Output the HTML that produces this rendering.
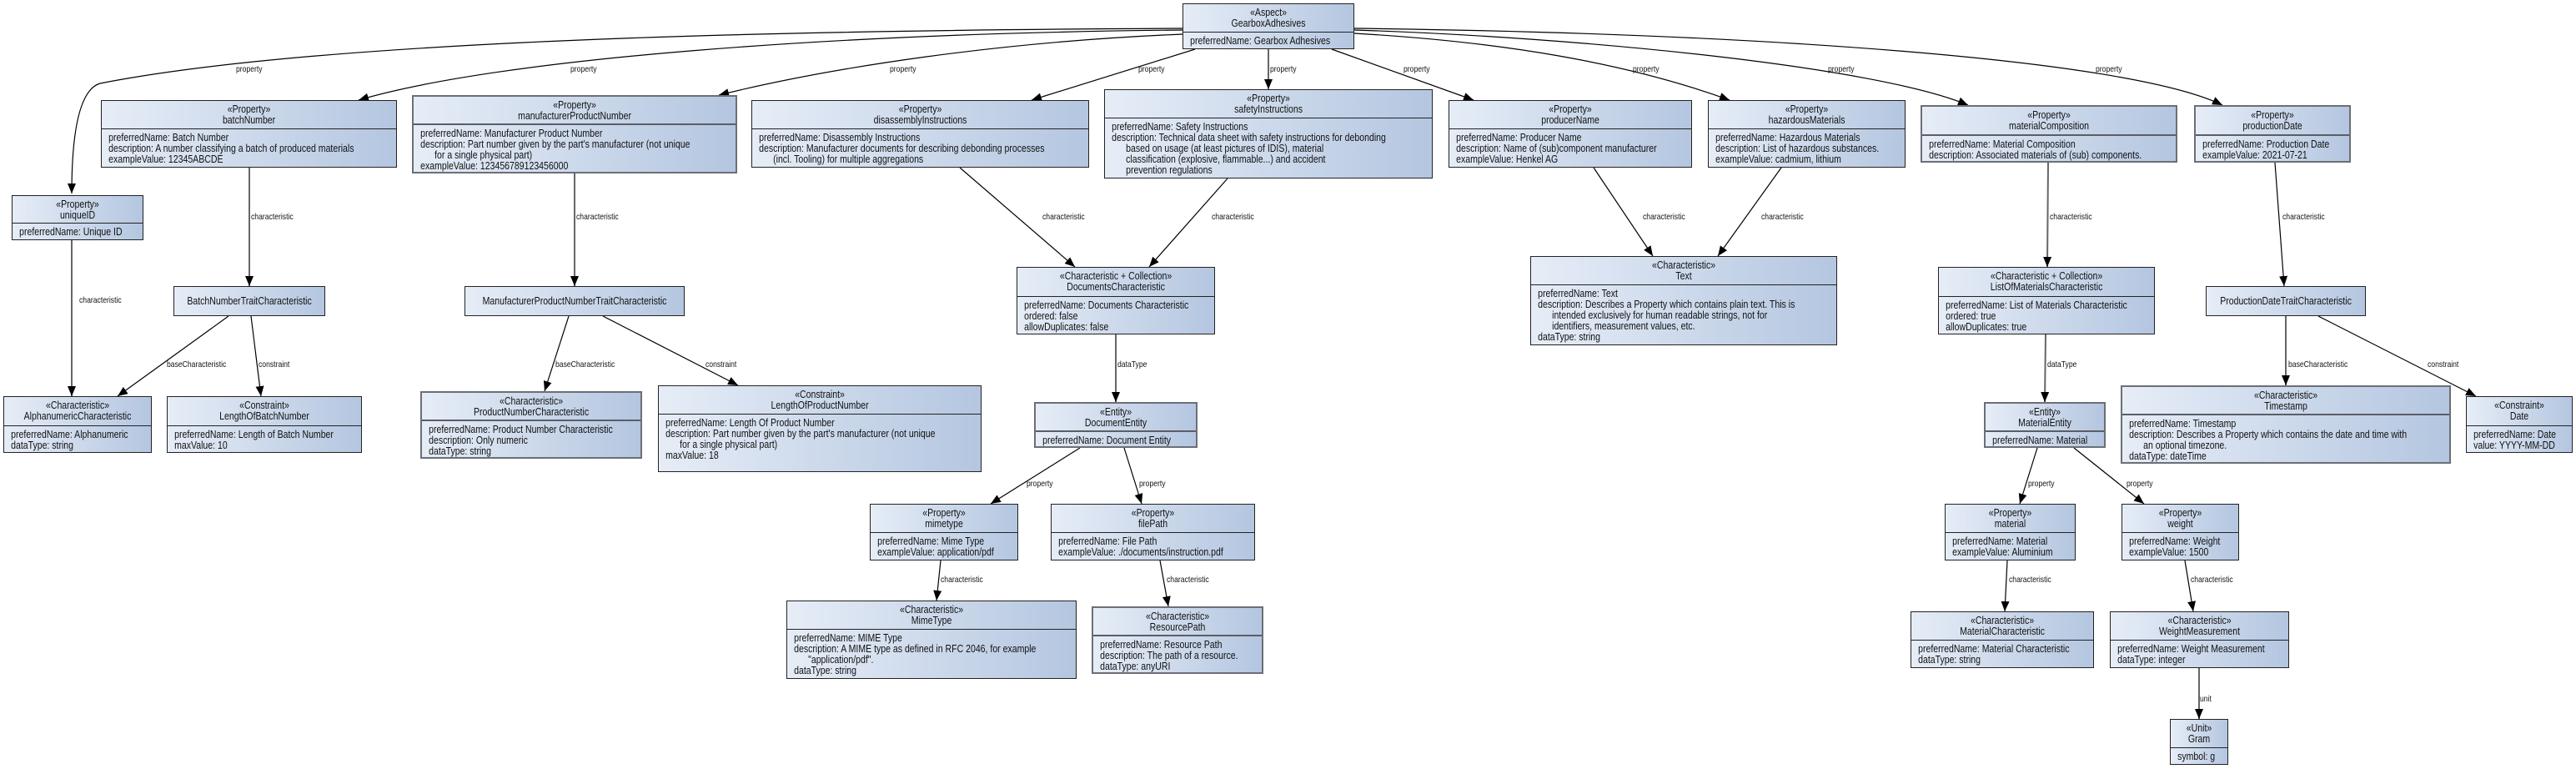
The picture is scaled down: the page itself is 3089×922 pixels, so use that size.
<!DOCTYPE html>
<html><head><meta charset="utf-8"><style>
body{margin:0;width:3089px;height:922px;background:#fff;position:relative;overflow:hidden;font-family:"Liberation Sans",sans-serif;color:#111}
.box{position:absolute;box-sizing:border-box;border:1.5px solid #222;background:linear-gradient(to right,#e6edf7,#b4c6e0);overflow:hidden}
.g{border:2px solid #6b6f76}
.h{box-sizing:border-box;border-bottom:1.5px solid #222}
.g .h{border-bottom:2px solid #5a5e66}
.s{width:123.5%;transform:scaleX(.81);transform-origin:0 0;font-size:13px;line-height:13px;white-space:nowrap}
.h .s{text-align:center;padding-top:3px}
.b .s{padding:3px 0 0 10px}
.i{padding-left:21px}
.t .s{text-align:center;line-height:33px}
.l{position:absolute;font-size:10.5px;line-height:10px;transform:scaleX(.82);transform-origin:0 50%;white-space:nowrap;color:#111}
svg{position:absolute;left:0;top:0}
</style></head><body>
<svg width="3089" height="922">
<defs><marker id="a" markerUnits="userSpaceOnUse" markerWidth="12" markerHeight="10" refX="12" refY="5" orient="auto"><path d="M0,0 L12,5 L0,10 z" fill="#000"/></marker></defs>
<g fill="none" stroke="#000" stroke-width="1.2" marker-end="url(#a)">
<path d="M1418,34 C1000,36 400,45 120,100 Q86,110 86,232"/>
<path d="M1418,36 C1000,40 600,70 430,120"/>
<path d="M1418,41 C1200,50 1000,80 862,114"/>
<path d="M1433,59 L1237,120"/>
<path d="M1521,59 L1521,107"/>
<path d="M1597,59 L1767,120"/>
<path d="M1624,40 C1800,50 1950,75 2074,120"/>
<path d="M1624,36 C1900,45 2250,80 2360,126"/>
<path d="M1624,34 C2100,40 2550,70 2665,126"/>
<path d="M274,379 L141,475"/>
<path d="M301,379 L313,475"/>
<path d="M682,379 L653,469"/>
<path d="M723,379 L885,462"/>
<path d="M1151,201 L1289,320"/>
<path d="M1472,214 L1378,320"/>
<path d="M1295,537 L1188,604"/>
<path d="M1348,537 L1369,604"/>
<path d="M1128,672 L1123,720"/>
<path d="M1391,672 L1401,727"/>
<path d="M1911,201 L1982,307"/>
<path d="M2136,201 L2060,307"/>
<path d="M2728,195 L2739,343"/>
<path d="M2780,379 L2969,475"/>
<path d="M2443,537 L2422,604"/>
<path d="M2487,537 L2571,604"/>
<path d="M2407,672 L2404,733"/>
<path d="M2620,672 L2630,733"/>
</g>
<g fill="none" stroke="#666" stroke-width="2" marker-end="url(#a)">
<path d="M86,288 L86,475"/>
<path d="M299,201 L299,343"/>
<path d="M689,208 L689,343"/>
<path d="M1338,401 L1338,482"/>
<path d="M2456,195 L2455,320"/>
<path d="M2453,401 L2452,482"/>
<path d="M2741,379 L2741,462"/>
<path d="M2637,801 L2637,862"/>
</g>
</svg>

<div class="l" style="left:283px;top:78px">property</div>
<div class="l" style="left:684px;top:78px">property</div>
<div class="l" style="left:1067px;top:78px">property</div>
<div class="l" style="left:1365px;top:78px">property</div>
<div class="l" style="left:1523px;top:78px">property</div>
<div class="l" style="left:1683px;top:78px">property</div>
<div class="l" style="left:1958px;top:78px">property</div>
<div class="l" style="left:2192px;top:78px">property</div>
<div class="l" style="left:2513px;top:78px">property</div>
<div class="l" style="left:95px;top:355px">characteristic</div>
<div class="l" style="left:301px;top:255px">characteristic</div>
<div class="l" style="left:691px;top:255px">characteristic</div>
<div class="l" style="left:1250px;top:255px">characteristic</div>
<div class="l" style="left:1453px;top:255px">characteristic</div>
<div class="l" style="left:1970px;top:255px">characteristic</div>
<div class="l" style="left:2112px;top:255px">characteristic</div>
<div class="l" style="left:2458px;top:255px">characteristic</div>
<div class="l" style="left:2737px;top:255px">characteristic</div>
<div class="l" style="left:200px;top:432px">baseCharacteristic</div>
<div class="l" style="left:310px;top:432px">constraint</div>
<div class="l" style="left:666px;top:432px">baseCharacteristic</div>
<div class="l" style="left:846px;top:432px">constraint</div>
<div class="l" style="left:1340px;top:432px">dataType</div>
<div class="l" style="left:2455px;top:432px">dataType</div>
<div class="l" style="left:2744px;top:432px">baseCharacteristic</div>
<div class="l" style="left:2911px;top:432px">constraint</div>
<div class="l" style="left:1231px;top:575px">property</div>
<div class="l" style="left:1366px;top:575px">property</div>
<div class="l" style="left:2432px;top:575px">property</div>
<div class="l" style="left:2550px;top:575px">property</div>
<div class="l" style="left:1128px;top:690px">characteristic</div>
<div class="l" style="left:1399px;top:690px">characteristic</div>
<div class="l" style="left:2409px;top:690px">characteristic</div>
<div class="l" style="left:2627px;top:690px">characteristic</div>
<div class="l" style="left:2638px;top:833px">unit</div>

<div class="box" style="left:1418px;top:4px;width:206px;height:55px"><div class="h" style="height:34px"><div class="s">«Aspect»<br>GearboxAdhesives</div></div><div class="b"><div class="s">preferredName: Gearbox Adhesives</div></div></div>

<div class="box" style="left:14px;top:234px;width:158px;height:54px"><div class="h" style="height:33px"><div class="s">«Property»<br>uniqueID</div></div><div class="b"><div class="s">preferredName: Unique ID</div></div></div>

<div class="box" style="left:121px;top:120px;width:355px;height:81px"><div class="h" style="height:34px"><div class="s">«Property»<br>batchNumber</div></div><div class="b"><div class="s">preferredName: Batch Number<br>description: A number classifying a batch of produced materials<br>exampleValue: 12345ABCDE</div></div></div>

<div class="box g" style="left:494px;top:114px;width:390px;height:94px"><div class="h" style="height:34px"><div class="s">«Property»<br>manufacturerProductNumber</div></div><div class="b"><div class="s">preferredName: Manufacturer Product Number<br>description: Part number given by the part's manufacturer (not unique<div class="i">for a single physical part)</div>exampleValue: 123456789123456000</div></div></div>

<div class="box" style="left:901px;top:120px;width:405px;height:81px"><div class="h" style="height:34px"><div class="s">«Property»<br>disassemblyInstructions</div></div><div class="b"><div class="s">preferredName: Disassembly Instructions<br>description: Manufacturer documents for describing debonding processes<div class="i">(incl. Tooling) for multiple aggregations</div></div></div></div>

<div class="box" style="left:1324px;top:107px;width:394px;height:107px"><div class="h" style="height:34px"><div class="s">«Property»<br>safetyInstructions</div></div><div class="b"><div class="s">preferredName: Safety Instructions<br>description: Technical data sheet with safety instructions for debonding<div class="i">based on usage (at least pictures of IDIS), material<br>classification (explosive, flammable...) and accident<br>prevention regulations</div></div></div></div>

<div class="box" style="left:1737px;top:120px;width:292px;height:81px"><div class="h" style="height:34px"><div class="s">«Property»<br>producerName</div></div><div class="b"><div class="s">preferredName: Producer Name<br>description: Name of (sub)component manufacturer<br>exampleValue: Henkel AG</div></div></div>

<div class="box" style="left:2048px;top:120px;width:237px;height:81px"><div class="h" style="height:34px"><div class="s">«Property»<br>hazardousMaterials</div></div><div class="b"><div class="s">preferredName: Hazardous Materials<br>description: List of hazardous substances.<br>exampleValue: cadmium, lithium</div></div></div>

<div class="box g" style="left:2303px;top:126px;width:308px;height:69px"><div class="h" style="height:35px"><div class="s">«Property»<br>materialComposition</div></div><div class="b"><div class="s">preferredName: Material Composition<br>description: Associated materials of (sub) components.</div></div></div>

<div class="box g" style="left:2631px;top:126px;width:188px;height:69px"><div class="h" style="height:35px"><div class="s">«Property»<br>productionDate</div></div><div class="b"><div class="s">preferredName: Production Date<br>exampleValue: 2021-07-21</div></div></div>

<div class="box t" style="left:208px;top:343px;width:182px;height:36px"><div class="s">BatchNumberTraitCharacteristic</div></div>
<div class="box t" style="left:557px;top:343px;width:264px;height:36px"><div class="s">ManufacturerProductNumberTraitCharacteristic</div></div>
<div class="box t" style="left:2645px;top:343px;width:192px;height:36px"><div class="s">ProductionDateTraitCharacteristic</div></div>

<div class="box" style="left:4px;top:475px;width:178px;height:68px"><div class="h" style="height:35px"><div class="s">«Characteristic»<br>AlphanumericCharacteristic</div></div><div class="b"><div class="s">preferredName: Alphanumeric<br>dataType: string</div></div></div>

<div class="box" style="left:200px;top:475px;width:234px;height:68px"><div class="h" style="height:35px"><div class="s">«Constraint»<br>LengthOfBatchNumber</div></div><div class="b"><div class="s">preferredName: Length of Batch Number<br>maxValue: 10</div></div></div>

<div class="box g" style="left:504px;top:469px;width:266px;height:81px"><div class="h" style="height:34px"><div class="s">«Characteristic»<br>ProductNumberCharacteristic</div></div><div class="b"><div class="s">preferredName: Product Number Characteristic<br>description: Only numeric<br>dataType: string</div></div></div>

<div class="box" style="left:789px;top:462px;width:388px;height:104px"><div class="h" style="height:34px"><div class="s">«Constraint»<br>LengthOfProductNumber</div></div><div class="b"><div class="s">preferredName: Length Of Product Number<br>description: Part number given by the part's manufacturer (not unique<div class="i">for a single physical part)</div>maxValue: 18</div></div></div>

<div class="box" style="left:1219px;top:320px;width:238px;height:81px"><div class="h" style="height:35px"><div class="s">«Characteristic + Collection»<br>DocumentsCharacteristic</div></div><div class="b"><div class="s">preferredName: Documents Characteristic<br>ordered: false<br>allowDuplicates: false</div></div></div>

<div class="box" style="left:1835px;top:307px;width:368px;height:107px"><div class="h" style="height:34px"><div class="s">«Characteristic»<br>Text</div></div><div class="b"><div class="s">preferredName: Text<br>description: Describes a Property which contains plain text. This is<div class="i">intended exclusively for human readable strings, not for<br>identifiers, measurement values, etc.</div>dataType: string</div></div></div>

<div class="box" style="left:2324px;top:320px;width:260px;height:81px"><div class="h" style="height:35px"><div class="s">«Characteristic + Collection»<br>ListOfMaterialsCharacteristic</div></div><div class="b"><div class="s">preferredName: List of Materials Characteristic<br>ordered: true<br>allowDuplicates: true</div></div></div>

<div class="box g" style="left:1240px;top:482px;width:196px;height:55px"><div class="h" style="height:34px"><div class="s">«Entity»<br>DocumentEntity</div></div><div class="b"><div class="s">preferredName: Document Entity</div></div></div>

<div class="box g" style="left:2379px;top:482px;width:146px;height:55px"><div class="h" style="height:34px"><div class="s">«Entity»<br>MaterialEntity</div></div><div class="b"><div class="s">preferredName: Material</div></div></div>

<div class="box g" style="left:2543px;top:462px;width:396px;height:94px"><div class="h" style="height:34px"><div class="s">«Characteristic»<br>Timestamp</div></div><div class="b"><div class="s">preferredName: Timestamp<br>description: Describes a Property which contains the date and time with<div class="i">an optional timezone.</div>dataType: dateTime</div></div></div>

<div class="box" style="left:2957px;top:475px;width:128px;height:68px"><div class="h" style="height:35px"><div class="s">«Constraint»<br>Date</div></div><div class="b"><div class="s">preferredName: Date<br>value: YYYY-MM-DD</div></div></div>

<div class="box" style="left:1043px;top:604px;width:178px;height:68px"><div class="h" style="height:34px"><div class="s">«Property»<br>mimetype</div></div><div class="b"><div class="s">preferredName: Mime Type<br>exampleValue: application/pdf</div></div></div>

<div class="box" style="left:1260px;top:604px;width:245px;height:68px"><div class="h" style="height:34px"><div class="s">«Property»<br>filePath</div></div><div class="b"><div class="s">preferredName: File Path<br>exampleValue: ./documents/instruction.pdf</div></div></div>

<div class="box" style="left:2332px;top:604px;width:157px;height:68px"><div class="h" style="height:34px"><div class="s">«Property»<br>material</div></div><div class="b"><div class="s">preferredName: Material<br>exampleValue: Aluminium</div></div></div>

<div class="box" style="left:2544px;top:604px;width:141px;height:68px"><div class="h" style="height:34px"><div class="s">«Property»<br>weight</div></div><div class="b"><div class="s">preferredName: Weight<br>exampleValue: 1500</div></div></div>

<div class="box" style="left:943px;top:720px;width:348px;height:94px"><div class="h" style="height:34px"><div class="s">«Characteristic»<br>MimeType</div></div><div class="b"><div class="s">preferredName: MIME Type<br>description: A MIME type as defined in RFC 2046, for example<div class="i">"application/pdf".</div>dataType: string</div></div></div>

<div class="box g" style="left:1309px;top:727px;width:206px;height:81px"><div class="h" style="height:34px"><div class="s">«Characteristic»<br>ResourcePath</div></div><div class="b"><div class="s">preferredName: Resource Path<br>description: The path of a resource.<br>dataType: anyURI</div></div></div>

<div class="box" style="left:2291px;top:733px;width:220px;height:68px"><div class="h" style="height:34px"><div class="s">«Characteristic»<br>MaterialCharacteristic</div></div><div class="b"><div class="s">preferredName: Material Characteristic<br>dataType: string</div></div></div>

<div class="box" style="left:2530px;top:733px;width:215px;height:68px"><div class="h" style="height:34px"><div class="s">«Characteristic»<br>WeightMeasurement</div></div><div class="b"><div class="s">preferredName: Weight Measurement<br>dataType: integer</div></div></div>

<div class="box" style="left:2602px;top:862px;width:70px;height:55px"><div class="h" style="height:34px"><div class="s">«Unit»<br>Gram</div></div><div class="b"><div class="s">symbol: g</div></div></div>

</body></html>
